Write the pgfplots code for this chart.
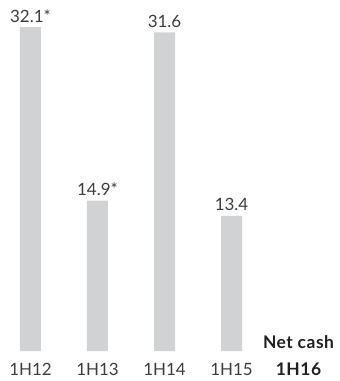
\documentclass[border=0pt]{standalone}
\usepackage{pgfplots}
\pgfplotsset{compat=1.18}
\usepackage{fontspec}
\setmainfont{Lato}
\definecolor{barg}{HTML}{D1D2D4}
\definecolor{txt}{HTML}{3C3C3C}
\definecolor{btxt}{HTML}{231F20}
\begin{document}
\begin{tikzpicture}
\begin{axis}[
  name=ax,
  scale only axis,
  width=340bp, height=351bp,
  xmin=-0.455, xmax=4.619,
  ymin=0, ymax=34.8,
  hide y axis,
  axis x line*=bottom,
  x axis line style={draw=none},
  major tick length=0pt,
  xtick={0,1,2,3,4},
  xticklabels={1H12,1H13,1H14,1H15,{\fontsize{17.5}{18}\selectfont\addfontfeature{LetterSpace=3}\bfseries\color{btxt}1H16}},
  xticklabel style={font=\fontsize{17}{18}\selectfont, text=txt, anchor=base, yshift=-24bp, inner sep=0pt},
  clip=false,
  ybar, bar width=21bp,
  nodes near coords,
  point meta=explicit symbolic,
  every node near coord/.append style={font=\fontsize{17}{18}\selectfont, text=txt, anchor=base, yshift=5bp, inner sep=0pt},
]
\addplot[fill=barg, draw=none] table[meta=lab] {
x y lab
0 32.1 32.1*
1 14.9 14.9*
2 31.6 31.6
3 13.4 13.4
};
\node[anchor=base, inner sep=0pt, font=\fontsize{17.5}{18}\selectfont\addfontfeature{LetterSpace=3}\bfseries, text=btxt] at (axis cs:4,0) [yshift=3bp] {Net cash};
\end{axis}
\pgfresetboundingbox
\path ([yshift=-30bp]ax.south west) rectangle (ax.north east);
\end{tikzpicture}
\end{document}
